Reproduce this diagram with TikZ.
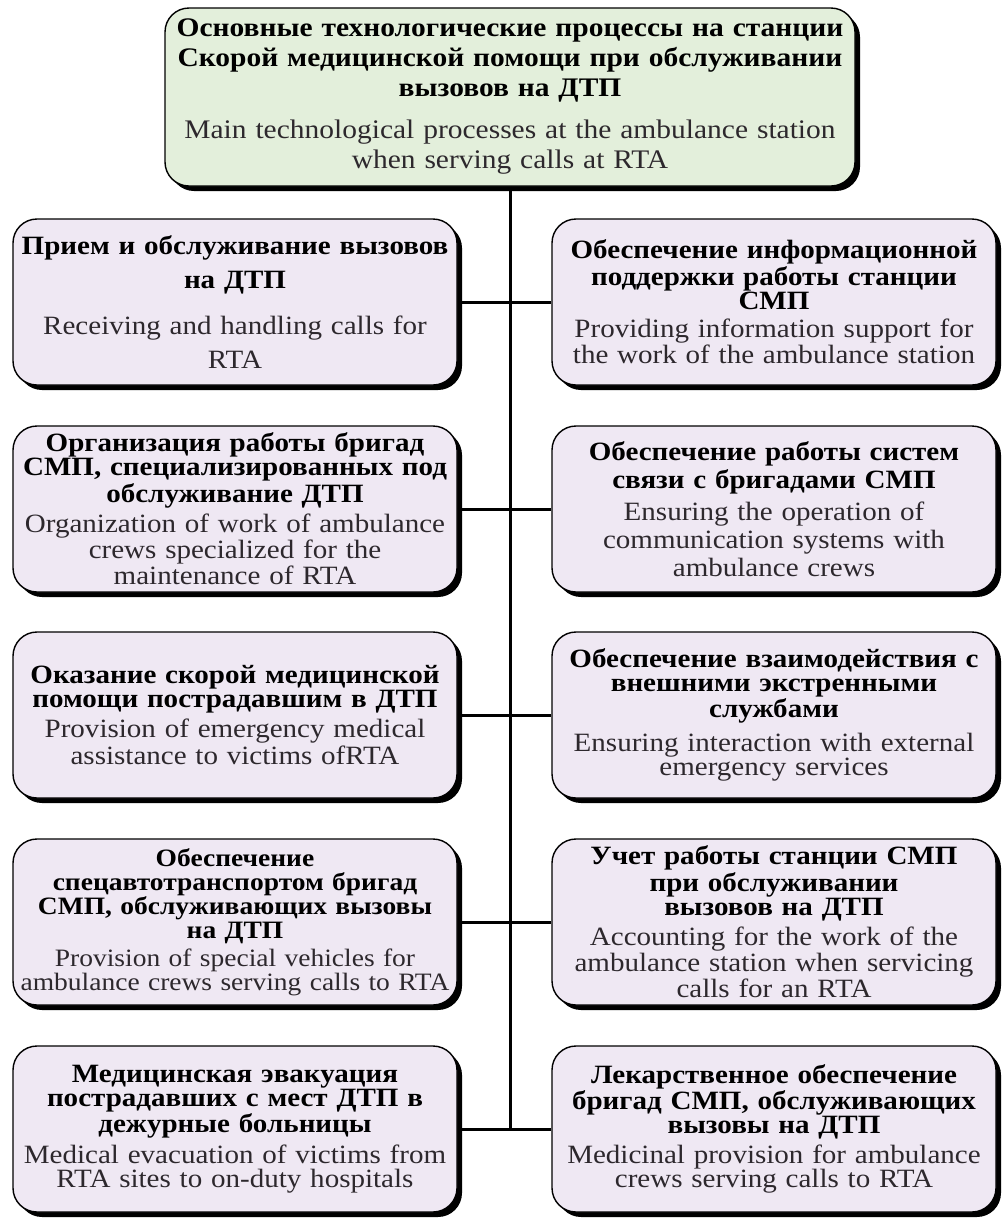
\documentclass[tikz,border=0pt]{standalone}
\usepackage{fontspec}
\setmainfont{Liberation Serif}[FakeStretch=1.1]
\usetikzlibrary{shadows}
\definecolor{boxgreen}{RGB}{227,239,219}
\definecolor{boxlilac}{RGB}{239,232,243}
\definecolor{entext}{RGB}{45,40,45}

\begin{document}
\begin{tikzpicture}[x=0.5pt, y=-0.5pt,
	procbox/.style={draw=black, line width=0.7pt, rounded corners=12pt, fill=boxlilac,
		align=center, text width=218pt, minimum width=222pt, minimum height=83pt, inner sep=2pt,
		font=\fontsize{13.2}{12}\selectfont,
		drop shadow={shadow xshift=2.5pt, shadow yshift=-2.5pt, fill=black, opacity=1}},
	link/.style={line width=1.5pt}]
			%%%%% START %%%%%
			\useasboundingbox (0, 0) rectangle (1004, 1222);
			
			\node[procbox, fill=boxgreen, text width=340pt, minimum width=345pt, minimum height=89pt,
				font=\fontsize{13.4}{15}\selectfont] (top) at (510, 97)
				{\textbf{Основные технологические процессы на станции}\\
				 \textbf{Скорой медицинской помощи при обслуживании}\\
				 \textbf{вызовов на ДТП}\\[6pt]
				 \textcolor{entext}{Main technological processes at the ambulance station}\\
				 \textcolor{entext}{when serving calls at RTA}};
			
			\node[procbox, font=\fontsize{13.2}{17}\selectfont] (l1) at (235, 302)
				{\textbf{Прием и обслуживание вызовов}\\
				 \textbf{на ДТП}\\[6pt]
				 \textcolor{entext}{Receiving and handling calls for}\\
				 \textcolor{entext}{RTA}};
			\node[procbox] (r1) at (774, 302)
				{\textbf{Обеспечение информационной}\\
				 \textbf{поддержки работы станции}\\
				 \textbf{СМП}\\[2pt]
				 \textcolor{entext}{Providing information support for}\\
				 \textcolor{entext}{the work of the ambulance station}};
			
			\node[procbox] (l2) at (235, 509)
				{\textbf{Организация работы бригад}\\
				 \textbf{СМП, специализированных под}\\
				 \textbf{обслуживание ДТП}\\[2pt]
				 \textcolor{entext}{Organization of work of ambulance}\\
				 \textcolor{entext}{crews specialized for the}\\
				 \textcolor{entext}{maintenance of RTA}};
			\node[procbox, font=\fontsize{13.2}{14}\selectfont] (r2) at (774, 509)
				{\textbf{Обеспечение работы систем}\\
				 \textbf{связи с бригадами СМП}\\[2pt]
				 \textcolor{entext}{Ensuring the operation of}\\
				 \textcolor{entext}{communication systems with}\\
				 \textcolor{entext}{ambulance crews}};
			
			\node[procbox] (l3) at (235, 715)
				{\textbf{Оказание скорой медицинской}\\
				 \textbf{помощи пострадавшим в ДТП}\\[2pt]
				 \textcolor{entext}{Provision of emergency medical}\\
				 \textcolor{entext}{assistance to victims ofRTA}};
			\node[procbox] (r3) at (774, 715)
				{\textbf{Обеспечение взаимодействия с}\\
				 \textbf{внешними экстренными}\\
				 \textbf{службами}\\[4pt]
				 \textcolor{entext}{Ensuring interaction with external}\\
				 \textcolor{entext}{emergency services}};
			
			\node[procbox, font=\fontsize{12.5}{12}\selectfont] (l4) at (235, 922)
				{\textbf{Обеспечение}\\
				 \textbf{спецавтотранспортом бригад}\\
				 \textbf{СМП, обслуживающих вызовы}\\
				 \textbf{на ДТП}\\[2pt]
				 \textcolor{entext}{Provision of special vehicles for}\\
				 \textcolor{entext}{ambulance crews serving calls to RTA}};
			\node[procbox] (r4) at (774, 922)
				{\textbf{Учет работы станции СМП}\\
				 \textbf{при обслуживании}\\
				 \textbf{вызовов на ДТП}\\[2pt]
				 \textcolor{entext}{Accounting for the work of the}\\
				 \textcolor{entext}{ambulance station when servicing}\\
				 \textcolor{entext}{calls for an RTA}};
			
			\node[procbox] (l5) at (235, 1129)
				{\textbf{Медицинская эвакуация}\\
				 \textbf{пострадавших с мест ДТП в}\\
				 \textbf{дежурные больницы}\\[2pt]
				 \textcolor{entext}{Medical evacuation of victims from}\\
				 \textcolor{entext}{RTA sites to on-duty hospitals}};
			\node[procbox] (r5) at (774, 1129)
				{\textbf{Лекарственное обеспечение}\\
				 \textbf{бригад СМП, обслуживающих}\\
				 \textbf{вызовы на ДТП}\\[2pt]
				 \textcolor{entext}{Medicinal provision for ambulance}\\
				 \textcolor{entext}{crews serving calls to RTA}};
			
			% spine and branches
			\draw[link] (top.south) -- (top.south |- l5.east);
			\draw[link] (l1.east) -- (r1.west);
			\draw[link] (l2.east) -- (r2.west);
			\draw[link] (l3.east) -- (r3.west);
			\draw[link] (l4.east) -- (r4.west);
			\draw[link] (l5.east) -- (r5.west);
			
			%%%%% END %%%%%
\end{tikzpicture}
\end{document}
